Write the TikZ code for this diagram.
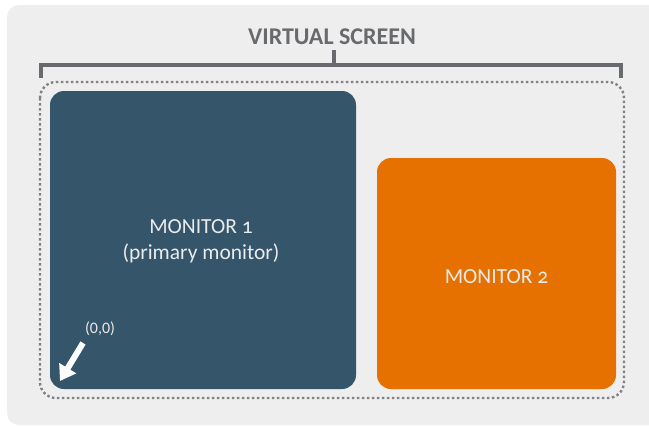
\documentclass[tikz,border=0pt]{standalone}
\usepackage{fontspec}
\setmainfont[Numbers=OldStyle]{Carlito}
\usepackage{tikz}
\usetikzlibrary{arrows.meta}
\usetikzlibrary{positioning}
\definecolor{panelgray}{RGB}{238,238,238}
\definecolor{bracketgray}{RGB}{105,106,109}
\definecolor{dotgray}{RGB}{130,130,132}
\definecolor{slateblue}{RGB}{52,85,106}
\definecolor{monorange}{RGB}{230,113,0}
\tikzset{monitor/.style = {rounded corners = 14, inner sep = 0}}
\tikzset{label/.style = {text = white!92!black, font = \fontsize{21.5}{26}\selectfont, align = center}}
\tikzset{brace/.style = {draw = bracketgray, line width = 4}}

\begin{document}
\begin{tikzpicture}[x = 1pt, y = -1pt]
      \useasboundingbox (0, 0) rectangle (649, 426);
      \fill [white] (0, 0) rectangle (649, 426);
      \fill [panelgray, rounded corners = 12] (7, 5) rectangle (680, 425);

      \node [text = bracketgray, font = \bfseries\fontsize{24}{28}\selectfont] (title) at (332, 37) {VIRTUAL SCREEN};
      \draw [brace] (41, 78) -- (41, 65) -- (621, 65) -- (621, 78);
      \draw [brace] (334, 65) -- (334, 50);

      \draw [dotgray, line width = 2.4, dash pattern = on 2.5 off 2.5, rounded corners = 16] (40, 82) rectangle (624, 398);

      \node [monitor, fill = slateblue, minimum width = 306, minimum height = 298] (mon1) at (203, 240) {};
      \node [label] (lbl1) at (201, 241) {MONITOR 1\\(primary monitor)};

      \node [monitor, fill = monorange, minimum width = 239, minimum height = 231] (mon2) at (496.5, 273.5) {};
      \node [label] (lbl2) at (496.5, 277) {MONITOR 2};

      \node [text = white!92!black, font = \addfontfeatures{Numbers=Lining}\fontsize{16}{19}\selectfont] (origin) at (100, 329) {(0,0)};
      \coordinate (tail) at (83, 343);
      \coordinate (tip) at (60, 381);
      \draw [white, line width = 6, -{Triangle[length = 15, width = 19]}] (tail) -- (tip);
    \end{tikzpicture}
\end{document}
